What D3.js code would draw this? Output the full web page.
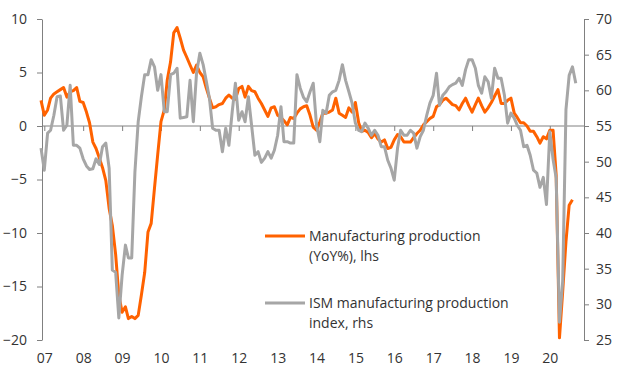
<!DOCTYPE html>
<html>
<head>
<meta charset="utf-8">
<script src="https://cdn.jsdelivr.net/npm/d3@7"></script>
<style>
body { margin: 0; background: #fff; }
svg text { font-family: "Open Sans", Lato, sans-serif; fill: #333; }
</style>
</head>
<body>
<div id="chart"></div>
<script>
// monthly data, first value is Dec 2006
const firstMonth = "2006-12";

// Manufacturing production (YoY%), left axis
const mfgYoY = [
    2.4,
    1.0, 1.5, 2.6, 3.0, 3.2, 3.4, 3.6, 2.7, 3.2, 3.3, 3.6, 2.3,             // 2007
    2.2, 1.3, 0.3, -1.5, -2.1, -3.0, -3.9, -5.1, -7.7, -9.3, -12.0, -15.8,  // 2008
    -17.4, -16.9, -18.0, -17.8, -18.0, -17.7, -15.8, -13.7, -9.9, -9.1, -5.8, -2.7, // 2009
    0.4, 1.5, 4.3, 6.0, 8.7, 9.2, 8.2, 7.1, 6.4, 5.7, 5.0, 5.7,             // 2010
    5.0, 4.6, 3.6, 2.6, 1.7, 1.8, 2.0, 2.1, 2.6, 2.9, 2.6, 2.5,             // 2011
    3.5, 3.7, 2.7, 3.7, 3.3, 3.2, 2.6, 2.1, 1.5, 0.9, 1.7, 1.8,             // 2012
    1.0, 0.8, 0.5, 0.1, 0.8, 0.7, 1.2, 1.6, 1.8, 1.9, 1.0, -0.1,            // 2013
    -0.4, 0.4, 1.2, 1.2, 1.3, 1.5, 2.6, 1.2, 1.0, 0.8, 1.7, 1.3,            // 2014
    2.2, 0.3, -0.5, -0.4, -0.6, -1.1, -0.7, -1.2, -1.5, -1.3, -2.1, -2.0,   // 2015
    -1.3, -0.8, -1.0, -1.5, -1.5, -1.5, -1.1, -0.7, -0.4, 0.1, 0.4, 0.7,    // 2016
    0.9, 1.8, 2.0, 2.4, 2.6, 2.3, 2.0, 1.9, 1.5, 2.1, 2.6, 1.9,             // 2017
    1.3, 2.0, 2.6, 1.9, 1.3, 1.7, 2.2, 2.8, 3.4, 2.1, 2.1, 2.4,             // 2018
    2.6, 1.2, 0.8, 0.3, 0.3, 0.0, -0.5, -0.5, -1.0, -1.6, -1.0, -1.2,       // 2019
    -0.4, -0.4, -4.6, -19.8, -15.5, -10.8, -7.4, -6.9                       // 2020
];

// ISM manufacturing production index, right axis
const ismProd = [
    51.9,
    48.8, 54.0, 54.4, 56.5, 59.1, 59.2, 54.4, 55.1, 60.7, 52.3, 52.3, 51.9, // 2007
    50.4, 49.4, 48.9, 49.0, 50.4, 49.6, 52.1, 52.6, 49.1, 34.8, 34.5, 28.1, // 2008
    34.1, 38.3, 36.5, 36.5, 48.5, 55.6, 59.1, 62.2, 62.2, 64.3, 63.3, 60.0, // 2009
    62.2, 57.0, 57.0, 62.2, 62.4, 63.1, 56.1, 56.2, 56.3, 61.4, 55.6, 62.4, // 2010
    65.2, 63.6, 61.4, 58.9, 54.7, 54.4, 54.4, 51.4, 54.7, 52.3, 57.0, 61.0, // 2011
    55.8, 57.0, 55.6, 59.1, 55.1, 50.9, 51.4, 49.9, 50.5, 51.4, 50.5, 51.6, // 2012
    53.7, 57.7, 52.8, 52.8, 52.6, 52.6, 62.2, 60.3, 59.0, 58.4, 59.8, 61.0, // 2013
    55.1, 52.8, 57.2, 56.8, 59.3, 59.8, 60.0, 61.4, 63.6, 61.4, 59.8, 58.2, // 2014
    55.4, 54.4, 54.2, 55.4, 54.7, 53.7, 54.4, 53.7, 52.1, 52.1, 50.2, 49.1, // 2015
    47.4, 51.9, 54.4, 53.7, 53.7, 54.4, 54.0, 51.9, 53.5, 54.4, 56.5, 58.2, // 2016
    59.3, 62.4, 57.9, 59.3, 59.8, 60.5, 60.8, 61.0, 61.7, 60.7, 62.9, 64.3, // 2017
    64.3, 63.1, 60.7, 59.6, 61.9, 61.2, 58.9, 63.1, 61.7, 61.7, 59.3, 55.4, // 2018
    56.8, 56.1, 55.1, 54.4, 52.1, 52.3, 50.9, 48.8, 48.4, 46.4, 47.8, 44.0, // 2019
    54.2, 50.3, 47.7, 27.5, 33.2, 57.3, 62.1, 63.3, 61.0                    // 2020
];

const leftTicks = [-20, -15, -10, -5, 0, 5, 10];
const rightTicks = [25, 30, 35, 40, 45, 50, 55, 60, 65, 70];
const years = [2007, 2008, 2009, 2010, 2011, 2012, 2013, 2014, 2015, 2016, 2017, 2018, 2019, 2020];
const yearLabels = ["07", "08", "09", "10", "11", "12", "13", "14", "15", "16", "17", "18", "19", "20"];
const legendLabels = [
    ["Manufacturing production", "(YoY%), lhs"],
    ["ISM manufacturing production", "index, rhs"]
];

const orange = "#ff6200";
const grey = "#a6a6a6";
const axisGrey = "#808080";

window.onload = init;

function init()
{
    const width = 630;
    const height = 372;
    const left = 42, right = 584, top = 19, bottom = 340;

    const svg = d3.select('#chart').append('svg').attr('width', width).attr('height', height);

    const d0 = d3.timeParse("%Y-%m")(firstMonth);
    const dateAt = i => d3.timeMonth.offset(d0, i);

    const x = d3.scaleTime()
        .domain([d0, dateAt(165)])
        .range([41, 41 + 3.241 * 165]);
    const yL = d3.scaleLinear().domain([-20, 10]).range([bottom, top]);
    const yR = d3.scaleLinear().domain([25, 70]).range([bottom, top]);

    // left axis
    const gl = svg.append('g').attr('transform', `translate(${left},0)`)
        .call(d3.axisLeft(yL).tickValues(leftTicks).tickSize(5).tickSizeOuter(0).tickPadding(10));
    // right axis
    const gr = svg.append('g').attr('transform', `translate(${right},0)`)
        .call(d3.axisRight(yR).tickValues(rightTicks).tickSize(5).tickSizeOuter(0).tickPadding(7));

    [gl, gr].forEach(g => {
        g.selectAll('path, line').attr('stroke', axisGrey);
        g.selectAll('text').style('font-size', '14px').attr('fill', '#333');
    });

    // zero line with year ticks
    svg.append('line')
        .attr('x1', left).attr('x2', right)
        .attr('y1', yL(0)).attr('y2', yL(0))
        .attr('stroke', axisGrey);

    const yearDates = years.map(y => new Date(y, 0, 1));
    const gx = svg.append('g').attr('transform', `translate(0,${yL(0)})`)
        .call(d3.axisBottom(x).tickValues(yearDates).tickSize(5).tickFormat(''));
    gx.select('.domain').remove();
    gx.selectAll('line').attr('stroke', axisGrey);

    // year labels at the bottom
    svg.append('g').selectAll('text').data(yearDates).enter().append('text')
        .attr('x', d => x(d) + 0.5)
        .attr('y', 358)
        .attr('dy', '0.36em')
        .attr('text-anchor', 'middle')
        .style('font-size', '14px')
        .text((d, i) => yearLabels[i]);

    const lineL = d3.line().x((d, i) => x(dateAt(i))).y(d => yL(d));
    const lineR = d3.line().x((d, i) => x(dateAt(i))).y(d => yR(d));

    svg.append('path').datum(mfgYoY)
        .attr('d', lineL)
        .attr('fill', 'none')
        .attr('stroke', orange)
        .attr('stroke-width', 3)
        .attr('stroke-linejoin', 'round');

    svg.append('path').datum(ismProd)
        .attr('d', lineR)
        .attr('fill', 'none')
        .attr('stroke', grey)
        .attr('stroke-width', 3)
        .attr('stroke-linejoin', 'round');

    // legend
    const legendColors = [orange, grey];
    const legendY = [236, 303];
    const lg = svg.append('g');
    legendLabels.forEach((lines, k) => {
        lg.append('line')
            .attr('x1', 265).attr('x2', 305)
            .attr('y1', legendY[k]).attr('y2', legendY[k])
            .attr('stroke', legendColors[k])
            .attr('stroke-width', 3);
        const t = lg.append('text')
            .attr('x', 309)
            .attr('y', legendY[k])
            .style('font-size', '14px');
        lines.forEach((s, j) => {
            t.append('tspan')
                .attr('x', 309)
                .attr('dy', j === 0 ? '0.36em' : 19.5)
                .text(s);
        });
    });
}
</script>
</body>
</html>
